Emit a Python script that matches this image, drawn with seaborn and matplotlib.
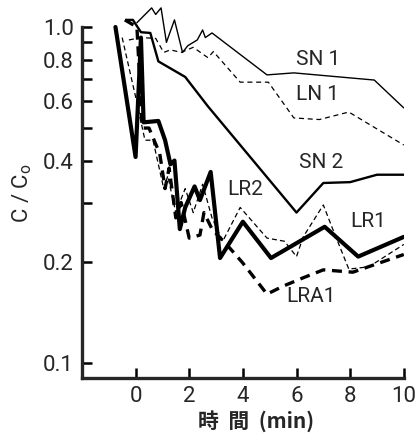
import matplotlib
matplotlib.use("Agg")
import matplotlib.pyplot as plt
import seaborn as sns
from matplotlib.ticker import FixedLocator, FixedFormatter, NullFormatter

# time (min) and C/C0 for each run
t_sn1 = [0.05, 0.6, 0.75, 0.95, 1.15, 1.45, 1.75, 1.95, 2.3, 2.5, 2.6, 2.85, 4.9, 5.9, 8.9, 10.0]
c_sn1 = [1.03, 1.14, 1.09, 1.14, 0.9, 1.05, 0.84, 0.88, 0.915, 0.98, 0.93, 0.96, 0.72, 0.73, 0.695, 0.574]

t_ln1 = [-0.25, 0.2, 0.75, 1.05, 1.3, 1.7, 2.15, 2.7, 2.9, 3.9, 4.95, 5.9, 6.85, 7.95, 10.0]
c_ln1 = [0.915, 0.93, 0.925, 0.84, 0.855, 0.84, 0.87, 0.81, 0.845, 0.685, 0.685, 0.536, 0.53, 0.558, 0.445]

t_sn2 = [-0.35, -0.1, 0.2, 0.55, 0.85, 1.85, 2.7, 6.0, 7.0, 8.0, 9.0, 10.0]
c_sn2 = [1.05, 1.05, 0.965, 0.96, 0.79, 0.71, 0.58, 0.28, 0.343, 0.345, 0.363, 0.363]

t_lr1 = [-0.75, 0.0, 0.2, 0.3, 0.85, 1.1, 1.3, 1.45, 1.65, 1.85, 2.2, 2.4, 2.8, 3.15, 4.0, 5.05, 7.05, 8.3, 10.0]
c_lr1 = [1.0, 0.41, 0.93, 0.52, 0.525, 0.46, 0.39, 0.40, 0.25, 0.29, 0.335, 0.305, 0.37, 0.205, 0.263, 0.205, 0.254, 0.207, 0.237]

t_lr2 = [-0.5, 0.0, 0.35, 0.65, 1.05, 1.2, 1.5, 1.85, 2.15, 2.5, 2.85, 3.25, 3.9, 4.9, 5.55, 6.0, 6.25, 7.0, 7.35, 7.95, 8.7, 10.0]
c_lr2 = [0.93, 0.62, 0.46, 0.46, 0.33, 0.36, 0.28, 0.33, 0.28, 0.34, 0.27, 0.23, 0.29, 0.235, 0.23, 0.207, 0.237, 0.295, 0.25, 0.19, 0.193, 0.225]

t_lra1 = [-0.4, 0.05, 0.25, 0.5, 0.9, 1.1, 1.25, 1.5, 1.7, 2.0, 2.4, 2.55, 2.85, 3.5, 4.0, 4.9, 5.5, 6.25, 7.0, 8.1, 10.0]
c_lra1 = [1.05, 1.0, 0.5, 0.5, 0.42, 0.33, 0.38, 0.27, 0.3, 0.235, 0.24, 0.28, 0.25, 0.22, 0.198, 0.16, 0.169, 0.179, 0.189, 0.186, 0.21]

yticks = [0.1, 0.2, 0.4, 0.6, 0.8, 1.0]
yticklabels = ['0.1', '0.2', '0.4', '0.6', '0.8', '1.0']
yminor = [0.3, 0.5, 0.7, 0.9]
xticks = [0, 2, 4, 6, 8, 10]

sns.set_style("ticks")
plt.rcParams['font.family'] = ['Roboto', 'DejaVu Sans', 'Noto Sans CJK JP']

fig = plt.figure(figsize=(4.18, 4.33), dpi=100)
ax = fig.add_axes([0.196, 0.127, 0.770, 0.872])

sns.lineplot(x=t_sn1, y=c_sn1, ax=ax, color='black', linewidth=1.0)
sns.lineplot(x=t_ln1, y=c_ln1, ax=ax, color='black', linewidth=0.9, linestyle=(0, (4, 3)))
sns.lineplot(x=t_sn2, y=c_sn2, ax=ax, color='black', linewidth=1.7)
sns.lineplot(x=t_lr1, y=c_lr1, ax=ax, color='black', linewidth=3.0)
sns.lineplot(x=t_lr2, y=c_lr2, ax=ax, color='black', linewidth=0.9, linestyle=(0, (4, 2.5)))
sns.lineplot(x=t_lra1, y=c_lra1, ax=ax, color='black', linewidth=2.4, linestyle=(0, (3, 2)))

ax.set_yscale('log')
ax.set_xlim(-2, 10)
ax.set_ylim(0.09, 1.2)

ax.yaxis.set_major_locator(FixedLocator(yticks))
ax.yaxis.set_major_formatter(FixedFormatter(yticklabels))
ax.yaxis.set_minor_locator(FixedLocator(yminor))
ax.yaxis.set_minor_formatter(NullFormatter())
ax.set_xticks(xticks)
ax.set_xticklabels([str(v) for v in xticks])

ax.tick_params(axis='both', which='both', direction='in', width=1.8, length=7,
               labelsize=16, color='black')
ax.tick_params(axis='y', pad=6)
ax.tick_params(axis='x', pad=6)

for s in ['top', 'right']:
    ax.spines[s].set_visible(False)
ax.spines['left'].set_linewidth(2.4)
ax.spines['bottom'].set_linewidth(2.4)
ax.spines['left'].set_bounds(0.09, 1.0)
ax.spines['bottom'].set_bounds(-2, 10)

labels = [('SN 1', 6.8, 0.80), ('LN 1', 6.8, 0.63), ('SN 2', 6.9, 0.394),
          ('LR2', 4.08, 0.327), ('LR1', 8.68, 0.263), ('LRA1', 6.54, 0.157)]
for txt, x, y in labels:
    ax.text(x, y, txt, fontsize=15, ha='center', va='center')

ax.set_ylabel('C / C$_\\mathregular{o}$', fontsize=16)
ax.yaxis.set_label_coords(-0.15, 0.49)
ax.set_xlabel('時  間  (min)', fontsize=15, fontweight='bold',
              family=['Noto Sans CJK JP', 'DejaVu Sans'])
ax.xaxis.set_label_coords(0.54, -0.085)

fig.savefig('out.png', dpi=100)
